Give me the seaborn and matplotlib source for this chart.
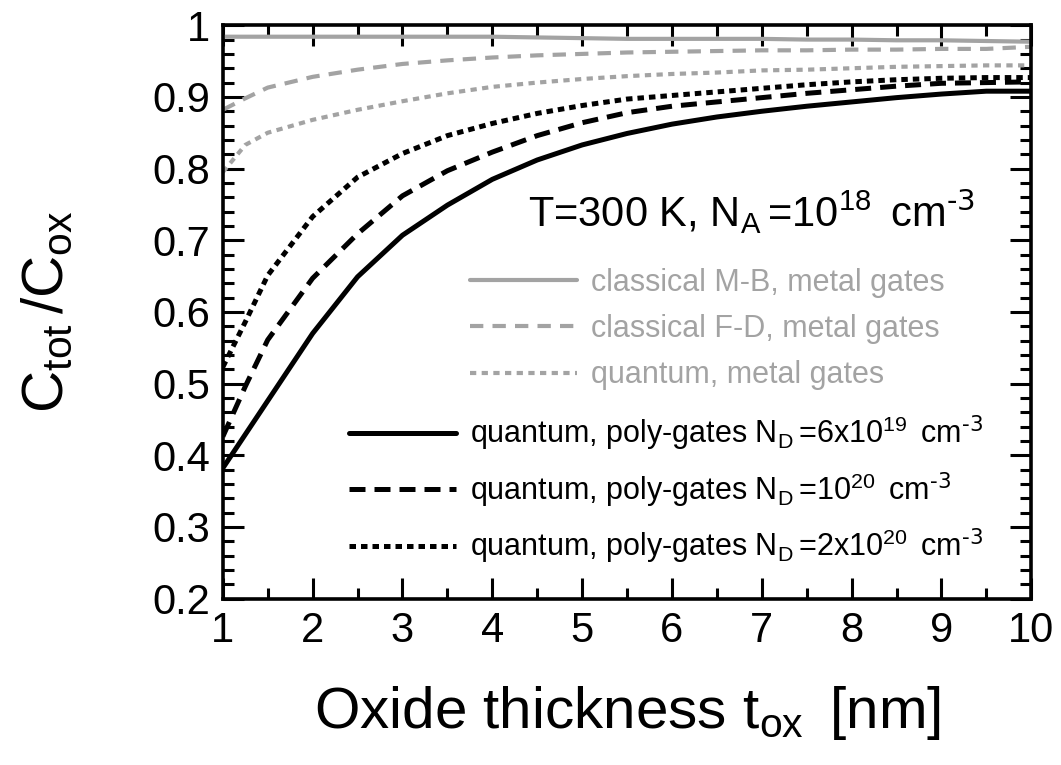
"""
C_tot/C_ox versus oxide thickness for metal and poly-Si gates
"""

import numpy as np
import pandas as pd
import matplotlib
matplotlib.use('Agg')
import matplotlib.pyplot as plt
from matplotlib.ticker import MultipleLocator
import seaborn as sns

# Data
thickness = [1, 1.25, 1.5, 2, 2.5, 3, 3.5, 4, 4.5, 5, 5.5, 6, 6.5, 7, 7.5, 8, 8.5, 9, 9.5, 10]

mb_metal = [0.984, 0.984, 0.984, 0.984, 0.984, 0.984, 0.984, 0.984, 0.983, 0.982,
            0.981, 0.981, 0.981, 0.981, 0.980, 0.980, 0.979, 0.979, 0.978, 0.977]
fd_metal = [0.882, 0.898, 0.913, 0.928, 0.938, 0.946, 0.951, 0.955, 0.958, 0.960,
            0.962, 0.963, 0.964, 0.965, 0.965, 0.966, 0.966, 0.967, 0.967, 0.970]
q_metal = [0.795, 0.833, 0.850, 0.868, 0.882, 0.894, 0.905, 0.914, 0.920, 0.925,
           0.929, 0.932, 0.934, 0.937, 0.938, 0.940, 0.942, 0.943, 0.944, 0.944]
q_poly_6e19 = [0.382, 0.429, 0.476, 0.570, 0.649, 0.707, 0.749, 0.785, 0.812, 0.833,
               0.849, 0.862, 0.872, 0.880, 0.887, 0.893, 0.899, 0.904, 0.908, 0.908]
q_poly_1e20 = [0.426, 0.496, 0.561, 0.647, 0.709, 0.762, 0.797, 0.823, 0.846, 0.864,
               0.878, 0.887, 0.893, 0.899, 0.905, 0.910, 0.915, 0.919, 0.920, 0.921]
q_poly_2e20 = [0.523, 0.586, 0.651, 0.733, 0.788, 0.821, 0.846, 0.863, 0.877, 0.888,
               0.897, 0.902, 0.907, 0.912, 0.917, 0.921, 0.924, 0.926, 0.927, 0.927]

metal_labels = ['classical M-B, metal gates',
                'classical F-D, metal gates',
                'quantum, metal gates']
poly_labels = [r'quantum, poly-gates N$_{D}\,$=6x10$^{19}\,$ cm$^{\text{-3}}$',
               r'quantum, poly-gates N$_{D}\,$=10$^{20}\,$ cm$^{\text{-3}}$',
               r'quantum, poly-gates N$_{D}\,$=2x10$^{20}\,$ cm$^{\text{-3}}$']

GRAY = '#a3a3a3'
BLACK = 'black'

sns.set_theme(style='ticks')
plt.rcParams['font.family'] = ['Liberation Sans', 'DejaVu Sans']
plt.rcParams['mathtext.default'] = 'regular'
plt.rcParams['axes.labelcolor'] = 'black'
plt.rcParams['text.color'] = 'black'

fig = plt.figure(figsize=(10.61, 7.65), dpi=100)
ax = fig.add_axes([0.210, 0.2175, 0.762, 0.7495])

# Metal gates (gray)
metal_series = [mb_metal, fd_metal, q_metal]
metal_styles = ['-', (0, (3.2, 2.2)), (0, (1.5, 1.3))]
for vals, ls, lab in zip(metal_series, metal_styles, metal_labels):
    sns.lineplot(x=thickness, y=vals, ax=ax, color=GRAY, lw=3.0,
                 linestyle=ls, label=lab)

# Poly gates (black)
poly_series = [q_poly_6e19, q_poly_1e20, q_poly_2e20]
poly_styles = ['-', (0, (3.2, 1.8)), (0, (1.3, 1.0))]
for vals, ls, lab in zip(poly_series, poly_styles, poly_labels):
    sns.lineplot(x=thickness, y=vals, ax=ax, color=BLACK, lw=3.6,
                 linestyle=ls, label=lab)

ax.set_xlim(1, 10)
ax.set_ylim(0.2, 1.0)
ax.xaxis.set_major_locator(MultipleLocator(1))
ax.xaxis.set_minor_locator(MultipleLocator(0.5))
ax.yaxis.set_major_locator(MultipleLocator(0.1))
ax.yaxis.set_minor_locator(MultipleLocator(0.02))
ax.set_yticks(np.arange(0.2, 1.01, 0.1))
ax.set_yticklabels(['0.2', '0.3', '0.4', '0.5', '0.6', '0.7', '0.8', '0.9', '1'])

ax.tick_params(which='both', direction='in', top=True, right=True,
               colors='black', labelsize=30, width=2.2)
ax.tick_params(which='major', length=15, pad=9)
ax.tick_params(which='minor', length=8)
for sp in ax.spines.values():
    sp.set_linewidth(2.6)
    sp.set_color('black')

ax.set_xlabel(r'Oxide thickness t$_{ox}\,$ [nm]', fontsize=42, labelpad=24)
ax.set_ylabel(r'C$_{tot}\,$/C$_{ox}$', fontsize=42, labelpad=56)

ax.text(0.378, 0.648, r'T=300 K, N$_{A}\,$=10$^{18}\,$ cm$^{\text{-3}}$',
        transform=ax.transAxes, fontsize=30, va='baseline', ha='left')

# Two legends: gray metal-gate curves and black poly-gate curves
lines = ax.get_lines()
ax.get_legend().remove()
leg1 = ax.legend(lines[:3], metal_labels, loc='upper left',
                 bbox_to_anchor=(0.291, 0.598), frameon=False, fontsize=22,
                 handlelength=3.5, handletextpad=0.45, labelspacing=0.53,
                 labelcolor='linecolor', borderaxespad=0)
ax.add_artist(leg1)
leg2 = ax.legend(lines[3:], poly_labels, loc='upper left',
                 bbox_to_anchor=(0.141, 0.344), frameon=False, fontsize=22,
                 handlelength=3.5, handletextpad=0.45, labelspacing=0.56,
                 labelcolor='linecolor', borderaxespad=0)

fig.savefig('out.png', dpi=100)
